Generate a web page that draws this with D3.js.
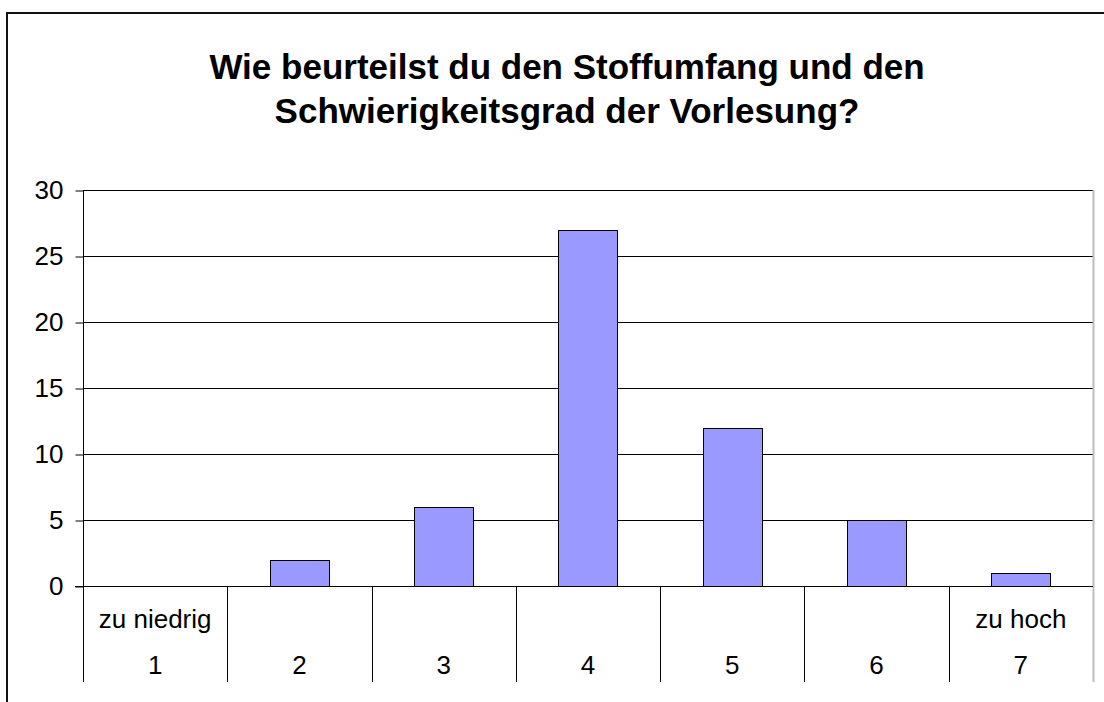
<!DOCTYPE html>
<html>
<head>
<meta charset="utf-8">
<script src="https://cdn.jsdelivr.net/npm/d3@7"></script>
<style>
  html, body { margin: 0; padding: 0; background: #fff; }
  svg { display: block; font-family: "Liberation Sans", Arial, sans-serif; }
</style>
</head>
<body>
<svg id="chart" width="1104" height="702"></svg>
<script>
const titleLines = ["Wie beurteilst du den Stoffumfang und den", "Schwierigkeitsgrad der Vorlesung?"];
const categories = ["1", "2", "3", "4", "5", "6", "7"];
const categoryNotes = ["zu niedrig", "", "", "", "", "", "zu hoch"];
const values = [0, 2, 6, 27, 12, 5, 1];
const yTicks = [0, 5, 10, 15, 20, 25, 30];

(function () {
const svg = d3.select("#chart");
const pL = 83, pR = 1093, pT = 190, pB = 586, catBottom = 682;
const labelSize = 26;

// outer chart border
svg.append("path")
  .attr("d", `M7,702 V13 H1104`)
  .attr("fill", "none").attr("stroke", "#111").attr("stroke-width", 2);

// title
svg.append("text")
  .attr("text-anchor", "middle")
  .attr("font-weight", "bold").attr("font-size", 35)
  .selectAll("tspan").data(titleLines).join("tspan")
  .attr("x", 567).attr("y", (d, i) => 79 + i * 44).text(d => d);

const x = d3.scaleBand().domain(categories).range([pL, pR]).paddingInner(0).paddingOuter(0);
const y = d3.scaleLinear().domain([0, 30]).range([pB, pT]);

// gridlines
svg.append("g").selectAll("line").data(yTicks.filter(t => t > 0)).join("line")
  .attr("x1", pL).attr("x2", pR)
  .attr("y1", d => Math.round(y(d)) + 0.5).attr("y2", d => Math.round(y(d)) + 0.5)
  .attr("stroke", "#000").attr("stroke-width", 1);

// right plot border
svg.append("line")
  .attr("x1", pR + 0.5).attr("x2", pR + 0.5).attr("y1", pT).attr("y2", catBottom)
  .attr("stroke", "#bdbdbd").attr("stroke-width", 2);

// bars
const bw = x.bandwidth() * 0.41;
const barData = categories.map((c, i) => ({ c, v: values[i] })).filter(d => d.v > 0);
svg.append("g").selectAll("rect").data(barData).join("rect")
  .attr("x", d => Math.round(x(d.c) + (x.bandwidth() - bw) / 2) + 0.5)
  .attr("y", d => Math.round(y(d.v)) + 0.5)
  .attr("width", Math.round(bw))
  .attr("height", d => Math.round(y(0)) - Math.round(y(d.v)))
  .attr("fill", "#9999ff").attr("stroke", "#000").attr("stroke-width", 1);

// y axis
const yAxis = d3.axisLeft(y).tickValues(yTicks).tickSize(8).tickPadding(12);
const gy = svg.append("g").attr("transform", `translate(${pL + 0.5},0.5)`).call(yAxis);
gy.select(".domain").attr("d", `M-8,${Math.round(y(0))}H0V${Math.round(y(30))}`).attr("stroke", "#000");
gy.selectAll(".tick line").attr("stroke", "#000");
gy.selectAll(".tick text").attr("font-size", labelSize).attr("fill", "#000")
  .attr("font-family", "Liberation Sans, Arial, sans-serif");

// x axis line
svg.append("line")
  .attr("x1", pL - 8).attr("x2", pR)
  .attr("y1", pB + 0.5).attr("y2", pB + 0.5)
  .attr("stroke", "#000").attr("stroke-width", 1);

// category separators
svg.append("g").selectAll("line").data(categories).join("line")
  .attr("x1", d => Math.round(x(d)) + 0.5).attr("x2", d => Math.round(x(d)) + 0.5)
  .attr("y1", pB).attr("y2", catBottom)
  .attr("stroke", "#000").attr("stroke-width", 1);

// category labels
const xl = svg.append("g");
xl.selectAll("text.cat").data(categories).join("text").attr("class", "cat")
  .attr("x", d => x(d) + x.bandwidth() / 2).attr("y", 674)
  .attr("text-anchor", "middle").attr("font-size", labelSize).text(d => d);
xl.selectAll("text.note").data(categoryNotes).join("text").attr("class", "note")
  .attr("x", (d, i) => x(categories[i]) + x.bandwidth() / 2).attr("y", 628)
  .attr("text-anchor", "middle").attr("font-size", labelSize).text(d => d);
})();
</script>
</body>
</html>
